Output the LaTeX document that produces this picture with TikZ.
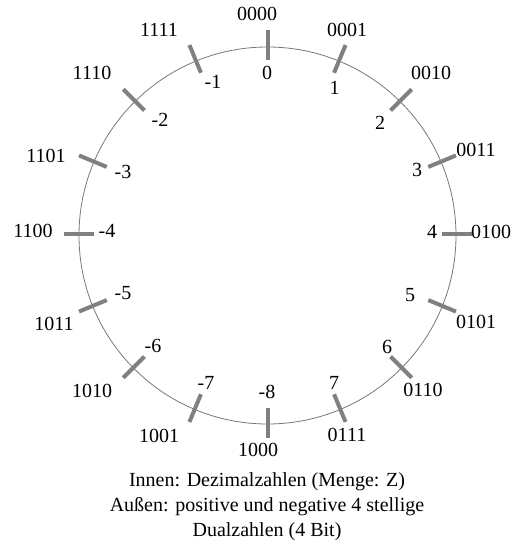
\documentclass[tikz,border=0pt]{standalone}
\usepackage{fontspec}
\setmainfont{Liberation Serif}
\definecolor{tickgray}{RGB}{128,128,128}
\definecolor{ringgray}{RGB}{120,120,120}
\tikzset{
  lbl/.style={inner sep=0pt, font=\fontsize{20}{24}\selectfont},
  capline/.style={inner sep=0pt, anchor=base, font=\fontsize{20}{24}\selectfont},
  tickmark/.style={line width=4pt, draw=tickgray},
  ring/.style={line width=0.8pt, draw=ringgray}
}
\begin{document}
\begin{tikzpicture}[x=1pt,y=-1pt]
\useasboundingbox (0,0) rectangle (514,547);
\coordinate (c) at (267.5,235.5);
\coordinate (tc) at (267.5,233.5);
\draw[ring] (c) circle[radius=188.5pt];
\begin{scope}[shift={(tc)}]
\foreach \k in {0,...,15}{
  \draw[tickmark] ({90-22.5*\k}:174pt) -- ({90-22.5*\k}:204pt);
}
\end{scope}
% outer labels (binary)
\node[lbl] (o0) at (257,13.5) {0000};
\node[lbl] (o1) at (347,30) {0001};
\node[lbl] (o2) at (431,73) {0010};
\node[lbl] (o3) at (476,150) {0011};
\node[lbl] (o4) at (491,232) {0100};
\node[lbl] (o5) at (476,322) {0101};
\node[lbl] (o6) at (423,390) {0110};
\node[lbl] (o7) at (347,435) {0111};
\node[lbl] (o8) at (258,450) {1000};
\node[lbl] (o9) at (159,436) {1001};
\node[lbl] (o10) at (92,391) {1010};
\node[lbl] (o11) at (54,324) {1011};
\node[lbl] (o12) at (33,231) {1100};
\node[lbl] (o13) at (46,156) {1101};
\node[lbl] (o14) at (92,73) {1110};
\node[lbl] (o15) at (159,30) {1111};
% inner labels (decimal)
\node[lbl] (i0) at (267,73) {0};
\node[lbl] (i1) at (334.5,88) {1};
\node[lbl] (i2) at (380,123) {2};
\node[lbl] (i3) at (417,170) {3};
\node[lbl] (i4) at (432,232) {4};
\node[lbl] (i5) at (410,295) {5};
\node[lbl] (i6) at (387,347) {6};
\node[lbl] (i7) at (334,383) {7};
\node[lbl] (i8) at (267,392) {-8};
\node[lbl] (i9) at (206,383) {-7};
\node[lbl] (i10) at (153,346) {-6};
\node[lbl] (i11) at (123,293) {-5};
\node[lbl] (i12) at (107,231) {-4};
\node[lbl] (i13) at (123,172) {-3};
\node[lbl] (i14) at (160,120) {-2};
\node[lbl] (i15) at (213,82) {-1};
% caption
\node[capline] (cap1) at (267,486) {Innen: Dezimalzahlen (Menge: Z)};
\node[capline] (cap2) at (267,511) {Außen: positive und negative 4 stellige};
\node[capline] (cap3) at (267,536) {Dualzahlen (4 Bit)};
\end{tikzpicture}
\end{document}
